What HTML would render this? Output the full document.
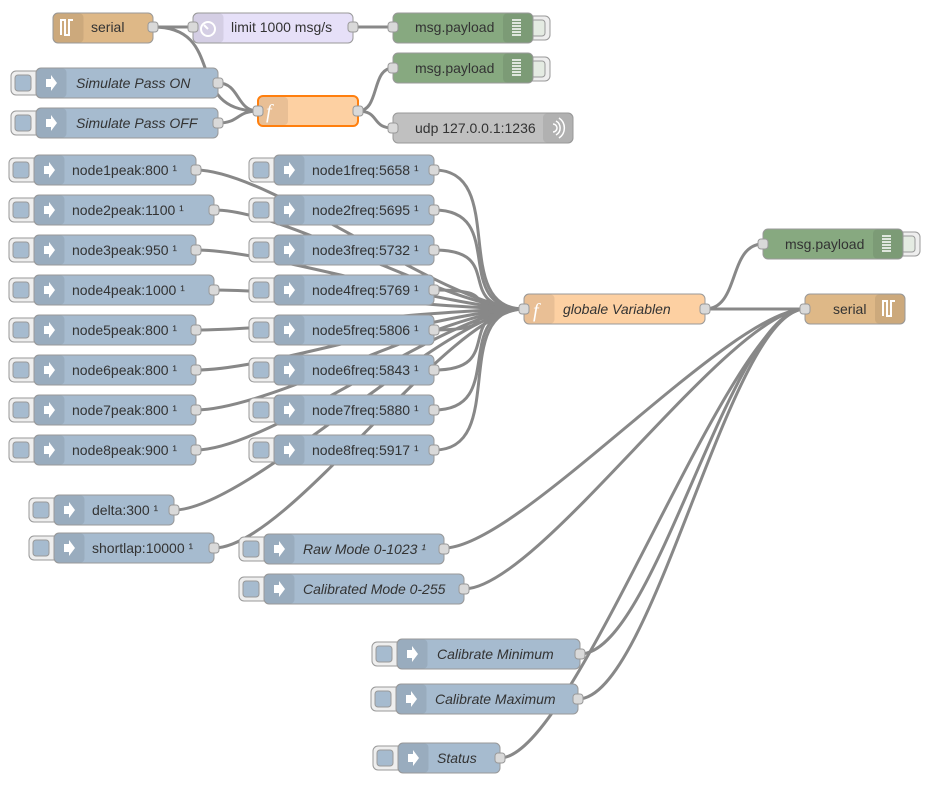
<!DOCTYPE html>
<html><head><meta charset="utf-8"><style>
html,body{margin:0;padding:0;background:#fff;width:926px;height:786px;overflow:hidden}
svg{display:block}
text{font-family:"Liberation Sans",sans-serif;font-size:14px;fill:#333}
.w{fill:none;stroke:#888;stroke-width:3}
.nd{stroke:#999;stroke-width:1}
.inj{fill:#a6bbcf;stroke:#999}
.ic{fill:rgba(0,0,0,0.08)}
.btn{fill:#eee;stroke:#999}
.bi{fill:#a6bbcf;stroke:#999}
.pt{fill:#d9d9d9;stroke:#999}
.ar{fill:#fff}
.it{font-style:italic}
</style></head><body>
<svg width="926" height="786" viewBox="0 0 926 786">
<!-- wires -->
<g class="w">
<path d="M153 27 C173 27 173 27 193 27"/>
<path d="M153 27 C228 27 183 111 258 111"/>
<path d="M353 27 C373 27 373 27 393 27"/>
<path d="M218 83 C240 83 236 111 258 111"/>
<path d="M218 123 C240 123 236 111 258 111"/>
<path d="M358 111 C380 111 371 68 393 68"/>
<path d="M358 111 C380 111 371 128 393 128"/>
<path d="M196 170 C271 170 449 309 524 309"/>
<path d="M214 210 C289 210 449 309 524 309"/>
<path d="M196 250 C271 250 449 309 524 309"/>
<path d="M214 290 C289 290 449 309 524 309"/>
<path d="M196 330 C271 330 449 309 524 309"/>
<path d="M196 370 C271 370 449 309 524 309"/>
<path d="M196 410 C271 410 449 309 524 309"/>
<path d="M196 450 C271 450 449 309 524 309"/>
<path d="M434 170 C509 170 449 309 524 309"/>
<path d="M434 210 C509 210 449 309 524 309"/>
<path d="M434 250 C509 250 449 309 524 309"/>
<path d="M434 290 C509 290 449 309 524 309"/>
<path d="M434 330 C509 330 449 309 524 309"/>
<path d="M434 370 C509 370 449 309 524 309"/>
<path d="M434 410 C509 410 449 309 524 309"/>
<path d="M434 450 C509 450 449 309 524 309"/>
<path d="M174 510 C249 510 449 309 524 309"/>
<path d="M214 548 C289 548 449 309 524 309"/>
<path d="M705 309 C740 309 728 244 763 244"/>
<path d="M705 309 C780 309 730 309 805 309"/>
<path d="M444 548 C519 548 730 309 805 309"/>
<path d="M464 589 C539 589 730 309 805 309"/>
<path d="M580 654 C655 654 730 309 805 309"/>
<path d="M578 699 C653 699 730 309 805 309"/>
<path d="M500 758 C575 758 730 309 805 309"/>
</g>

<!-- serial in -->
<rect x="53" y="13" width="100" height="30" rx="5" fill="#deb887" class="nd"/>
<rect x="53.5" y="13.5" width="30" height="29" rx="4" class="ic"/>
<path d="M61 35 V20 H65 V35 H69 V20 H73" fill="none" stroke="#fff" stroke-width="2"/>
<text x="91" y="32">serial</text>
<rect x="148" y="22" width="10" height="10" rx="3" class="pt"/>

<!-- limit -->
<rect x="193" y="13" width="160" height="30" rx="5" fill="#e6e0f8" class="nd"/>
<rect x="193.5" y="13.5" width="30" height="29" rx="4" class="ic"/>
<circle cx="208" cy="29" r="7" fill="none" stroke="#fff" stroke-width="2"/>
<path d="M208 29 L204 25" stroke="#fff" stroke-width="2"/>
<text x="231" y="32">limit 1000 msg/s</text>
<rect x="188" y="22" width="10" height="10" rx="3" class="pt"/>
<rect x="348" y="22" width="10" height="10" rx="3" class="pt"/>

<!-- debug nodes -->
<g>
<rect x="525" y="16" width="25" height="24" rx="5" class="btn"/>
<rect x="531" y="20" width="14" height="16" rx="3" fill="#e4ebe2" stroke="#999"/>
<rect x="393" y="13" width="140" height="30" rx="5" fill="#87a980" class="nd"/>
<rect x="503" y="13.5" width="29.5" height="29" rx="4" class="ic"/>
<path d="M512 20h9M512 23h9M512 26h9M512 29h9M512 32h9M512 35h9" stroke="#fff" stroke-width="1.5"/>
<text x="415" y="32">msg.payload</text>
<rect x="388" y="22" width="10" height="10" rx="3" class="pt"/>
</g>
<g>
<rect x="525" y="57" width="25" height="24" rx="5" class="btn"/>
<rect x="531" y="61" width="14" height="16" rx="3" fill="#e4ebe2" stroke="#999"/>
<rect x="393" y="53" width="140" height="30" rx="5" fill="#87a980" class="nd"/>
<rect x="503" y="53.5" width="29.5" height="29" rx="4" class="ic"/>
<path d="M512 60h9M512 63h9M512 66h9M512 69h9M512 72h9M512 75h9" stroke="#fff" stroke-width="1.5"/>
<text x="415" y="73">msg.payload</text>
<rect x="388" y="63" width="10" height="10" rx="3" class="pt"/>
</g>
<g>
<rect x="895" y="232" width="25" height="24" rx="5" class="btn"/>
<rect x="901" y="236" width="14" height="16" rx="3" fill="#e4ebe2" stroke="#999"/>
<rect x="763" y="229" width="140" height="30" rx="5" fill="#87a980" class="nd"/>
<rect x="873" y="229.5" width="29.5" height="29" rx="4" class="ic"/>
<path d="M882 236h9M882 239h9M882 242h9M882 245h9M882 248h9M882 251h9" stroke="#fff" stroke-width="1.5"/>
<text x="785" y="249">msg.payload</text>
<rect x="758" y="239" width="10" height="10" rx="3" class="pt"/>
</g>

<!-- udp -->
<rect x="393" y="113" width="180" height="30" rx="5" fill="#c0c0c0" class="nd"/>
<rect x="543" y="113.5" width="29.5" height="29" rx="4" class="ic"/>
<path d="M553 124a4 4 0 0 1 0 8M556 121a8 8 0 0 1 0 14M559 118a12 12 0 0 1 0 20" fill="none" stroke="#fff" stroke-width="1.5"/>
<text x="415" y="133">udp 127.0.0.1:1236</text>
<rect x="388" y="123" width="10" height="10" rx="3" class="pt"/>

<!-- function selected -->
<rect x="258" y="96" width="100" height="30" rx="5" fill="#fdd0a2" stroke="#ff7f0e" stroke-width="2"/>
<rect x="259" y="97" width="29" height="28" rx="4" class="ic"/>
<text x="266" y="118" style="font-size:20px;fill:#fff;font-style:italic;font-family:'Liberation Serif',serif">f</text>
<rect x="253" y="106" width="10" height="10" rx="3" class="pt"/>
<rect x="353" y="106" width="10" height="10" rx="3" class="pt"/>

<!-- globale Variablen -->
<rect x="524" y="294" width="181" height="30" rx="5" fill="#fdd0a2" class="nd"/>
<rect x="524.5" y="294.5" width="30" height="29" rx="4" class="ic"/>
<text x="533" y="317" style="font-size:20px;fill:#fff;font-style:italic;font-family:'Liberation Serif',serif">f</text>
<text x="563" y="314" class="it">globale Variablen</text>
<rect x="519" y="304" width="10" height="10" rx="3" class="pt"/>
<rect x="700" y="304" width="10" height="10" rx="3" class="pt"/>

<!-- serial out -->
<rect x="805" y="294" width="100" height="30" rx="5" fill="#deb887" class="nd"/>
<rect x="875" y="294.5" width="29.5" height="29" rx="4" class="ic"/>
<path d="M883 316 V301 H887 V316 H891 V301 H895" fill="none" stroke="#fff" stroke-width="2"/>
<text x="833" y="314">serial</text>
<rect x="800" y="304" width="10" height="10" rx="3" class="pt"/>

<!-- inject nodes -->
<g id="i1"><rect x="11" y="71" width="32" height="24" rx="5" class="btn"/><rect x="15" y="75" width="16" height="16" rx="3" class="bi"/><rect x="36" y="68" width="182" height="30" rx="5" class="inj"/><rect x="36.5" y="68.5" width="30" height="29" rx="4" class="ic"/><polygon class="ar" points="46,79 51,79 51,75 57,83 51,91 51,87 46,87"/><text x="76" y="88" class="it">Simulate Pass ON</text><rect x="213" y="78" width="10" height="10" rx="3" class="pt"/></g>
<g><rect x="11" y="111" width="32" height="24" rx="5" class="btn"/><rect x="15" y="115" width="16" height="16" rx="3" class="bi"/><rect x="36" y="108" width="182" height="30" rx="5" class="inj"/><rect x="36.5" y="108.5" width="30" height="29" rx="4" class="ic"/><polygon class="ar" points="46,119 51,119 51,115 57,123 51,131 51,127 46,127"/><text x="76" y="128" class="it">Simulate Pass OFF</text><rect x="213" y="118" width="10" height="10" rx="3" class="pt"/></g>

<!-- peaks -->
<g><rect x="9" y="158" width="32" height="24" rx="5" class="btn"/><rect x="13" y="162" width="16" height="16" rx="3" class="bi"/><rect x="34" y="155" width="162" height="30" rx="5" class="inj"/><rect x="34.5" y="155.5" width="30" height="29" rx="4" class="ic"/><polygon class="ar" points="44,166 49,166 49,162 55,170 49,178 49,174 44,174"/><text x="72" y="175">node1peak:800 ¹</text><rect x="191" y="165" width="10" height="10" rx="3" class="pt"/></g>
<g><rect x="9" y="198" width="32" height="24" rx="5" class="btn"/><rect x="13" y="202" width="16" height="16" rx="3" class="bi"/><rect x="34" y="195" width="180" height="30" rx="5" class="inj"/><rect x="34.5" y="195.5" width="30" height="29" rx="4" class="ic"/><polygon class="ar" points="44,206 49,206 49,202 55,210 49,218 49,214 44,214"/><text x="72" y="215">node2peak:1100 ¹</text><rect x="209" y="205" width="10" height="10" rx="3" class="pt"/></g>
<g><rect x="9" y="238" width="32" height="24" rx="5" class="btn"/><rect x="13" y="242" width="16" height="16" rx="3" class="bi"/><rect x="34" y="235" width="162" height="30" rx="5" class="inj"/><rect x="34.5" y="235.5" width="30" height="29" rx="4" class="ic"/><polygon class="ar" points="44,246 49,246 49,242 55,250 49,258 49,254 44,254"/><text x="72" y="255">node3peak:950 ¹</text><rect x="191" y="245" width="10" height="10" rx="3" class="pt"/></g>
<g><rect x="9" y="278" width="32" height="24" rx="5" class="btn"/><rect x="13" y="282" width="16" height="16" rx="3" class="bi"/><rect x="34" y="275" width="180" height="30" rx="5" class="inj"/><rect x="34.5" y="275.5" width="30" height="29" rx="4" class="ic"/><polygon class="ar" points="44,286 49,286 49,282 55,290 49,298 49,294 44,294"/><text x="72" y="295">node4peak:1000 ¹</text><rect x="209" y="285" width="10" height="10" rx="3" class="pt"/></g>
<g><rect x="9" y="318" width="32" height="24" rx="5" class="btn"/><rect x="13" y="322" width="16" height="16" rx="3" class="bi"/><rect x="34" y="315" width="162" height="30" rx="5" class="inj"/><rect x="34.5" y="315.5" width="30" height="29" rx="4" class="ic"/><polygon class="ar" points="44,326 49,326 49,322 55,330 49,338 49,334 44,334"/><text x="72" y="335">node5peak:800 ¹</text><rect x="191" y="325" width="10" height="10" rx="3" class="pt"/></g>
<g><rect x="9" y="358" width="32" height="24" rx="5" class="btn"/><rect x="13" y="362" width="16" height="16" rx="3" class="bi"/><rect x="34" y="355" width="162" height="30" rx="5" class="inj"/><rect x="34.5" y="355.5" width="30" height="29" rx="4" class="ic"/><polygon class="ar" points="44,366 49,366 49,362 55,370 49,378 49,374 44,374"/><text x="72" y="375">node6peak:800 ¹</text><rect x="191" y="365" width="10" height="10" rx="3" class="pt"/></g>
<g><rect x="9" y="398" width="32" height="24" rx="5" class="btn"/><rect x="13" y="402" width="16" height="16" rx="3" class="bi"/><rect x="34" y="395" width="162" height="30" rx="5" class="inj"/><rect x="34.5" y="395.5" width="30" height="29" rx="4" class="ic"/><polygon class="ar" points="44,406 49,406 49,402 55,410 49,418 49,414 44,414"/><text x="72" y="415">node7peak:800 ¹</text><rect x="191" y="405" width="10" height="10" rx="3" class="pt"/></g>
<g><rect x="9" y="438" width="32" height="24" rx="5" class="btn"/><rect x="13" y="442" width="16" height="16" rx="3" class="bi"/><rect x="34" y="435" width="162" height="30" rx="5" class="inj"/><rect x="34.5" y="435.5" width="30" height="29" rx="4" class="ic"/><polygon class="ar" points="44,446 49,446 49,442 55,450 49,458 49,454 44,454"/><text x="72" y="455">node8peak:900 ¹</text><rect x="191" y="445" width="10" height="10" rx="3" class="pt"/></g>

<!-- freqs -->
<g><rect x="249" y="158" width="32" height="24" rx="5" class="btn"/><rect x="253" y="162" width="16" height="16" rx="3" class="bi"/><rect x="274" y="155" width="160" height="30" rx="5" class="inj"/><rect x="274.5" y="155.5" width="30" height="29" rx="4" class="ic"/><polygon class="ar" points="284,166 289,166 289,162 295,170 289,178 289,174 284,174"/><text x="312" y="175">node1freq:5658 ¹</text><rect x="429" y="165" width="10" height="10" rx="3" class="pt"/></g>
<g><rect x="249" y="198" width="32" height="24" rx="5" class="btn"/><rect x="253" y="202" width="16" height="16" rx="3" class="bi"/><rect x="274" y="195" width="160" height="30" rx="5" class="inj"/><rect x="274.5" y="195.5" width="30" height="29" rx="4" class="ic"/><polygon class="ar" points="284,206 289,206 289,202 295,210 289,218 289,214 284,214"/><text x="312" y="215">node2freq:5695 ¹</text><rect x="429" y="205" width="10" height="10" rx="3" class="pt"/></g>
<g><rect x="249" y="238" width="32" height="24" rx="5" class="btn"/><rect x="253" y="242" width="16" height="16" rx="3" class="bi"/><rect x="274" y="235" width="160" height="30" rx="5" class="inj"/><rect x="274.5" y="235.5" width="30" height="29" rx="4" class="ic"/><polygon class="ar" points="284,246 289,246 289,242 295,250 289,258 289,254 284,254"/><text x="312" y="255">node3freq:5732 ¹</text><rect x="429" y="245" width="10" height="10" rx="3" class="pt"/></g>
<g><rect x="249" y="278" width="32" height="24" rx="5" class="btn"/><rect x="253" y="282" width="16" height="16" rx="3" class="bi"/><rect x="274" y="275" width="160" height="30" rx="5" class="inj"/><rect x="274.5" y="275.5" width="30" height="29" rx="4" class="ic"/><polygon class="ar" points="284,286 289,286 289,282 295,290 289,298 289,294 284,294"/><text x="312" y="295">node4freq:5769 ¹</text><rect x="429" y="285" width="10" height="10" rx="3" class="pt"/></g>
<g><rect x="249" y="318" width="32" height="24" rx="5" class="btn"/><rect x="253" y="322" width="16" height="16" rx="3" class="bi"/><rect x="274" y="315" width="160" height="30" rx="5" class="inj"/><rect x="274.5" y="315.5" width="30" height="29" rx="4" class="ic"/><polygon class="ar" points="284,326 289,326 289,322 295,330 289,338 289,334 284,334"/><text x="312" y="335">node5freq:5806 ¹</text><rect x="429" y="325" width="10" height="10" rx="3" class="pt"/></g>
<g><rect x="249" y="358" width="32" height="24" rx="5" class="btn"/><rect x="253" y="362" width="16" height="16" rx="3" class="bi"/><rect x="274" y="355" width="160" height="30" rx="5" class="inj"/><rect x="274.5" y="355.5" width="30" height="29" rx="4" class="ic"/><polygon class="ar" points="284,366 289,366 289,362 295,370 289,378 289,374 284,374"/><text x="312" y="375">node6freq:5843 ¹</text><rect x="429" y="365" width="10" height="10" rx="3" class="pt"/></g>
<g><rect x="249" y="398" width="32" height="24" rx="5" class="btn"/><rect x="253" y="402" width="16" height="16" rx="3" class="bi"/><rect x="274" y="395" width="160" height="30" rx="5" class="inj"/><rect x="274.5" y="395.5" width="30" height="29" rx="4" class="ic"/><polygon class="ar" points="284,406 289,406 289,402 295,410 289,418 289,414 284,414"/><text x="312" y="415">node7freq:5880 ¹</text><rect x="429" y="405" width="10" height="10" rx="3" class="pt"/></g>
<g><rect x="249" y="438" width="32" height="24" rx="5" class="btn"/><rect x="253" y="442" width="16" height="16" rx="3" class="bi"/><rect x="274" y="435" width="160" height="30" rx="5" class="inj"/><rect x="274.5" y="435.5" width="30" height="29" rx="4" class="ic"/><polygon class="ar" points="284,446 289,446 289,442 295,450 289,458 289,454 284,454"/><text x="312" y="455">node8freq:5917 ¹</text><rect x="429" y="445" width="10" height="10" rx="3" class="pt"/></g>

<!-- delta / shortlap -->
<g><rect x="29" y="498" width="32" height="24" rx="5" class="btn"/><rect x="33" y="502" width="16" height="16" rx="3" class="bi"/><rect x="54" y="495" width="120" height="30" rx="5" class="inj"/><rect x="54.5" y="495.5" width="30" height="29" rx="4" class="ic"/><polygon class="ar" points="64,506 69,506 69,502 75,510 69,518 69,514 64,514"/><text x="92" y="515">delta:300 ¹</text><rect x="169" y="505" width="10" height="10" rx="3" class="pt"/></g>
<g><rect x="29" y="536" width="32" height="24" rx="5" class="btn"/><rect x="33" y="540" width="16" height="16" rx="3" class="bi"/><rect x="54" y="533" width="160" height="30" rx="5" class="inj"/><rect x="54.5" y="533.5" width="30" height="29" rx="4" class="ic"/><polygon class="ar" points="64,544 69,544 69,540 75,548 69,556 69,552 64,552"/><text x="92" y="553">shortlap:10000 ¹</text><rect x="209" y="543" width="10" height="10" rx="3" class="pt"/></g>

<!-- modes -->
<g><rect x="239" y="537" width="32" height="24" rx="5" class="btn"/><rect x="243" y="541" width="16" height="16" rx="3" class="bi"/><rect x="264" y="534" width="180" height="30" rx="5" class="inj"/><rect x="264.5" y="534.5" width="30" height="29" rx="4" class="ic"/><polygon class="ar" points="274,545 279,545 279,541 285,549 279,557 279,553 274,553"/><text x="303" y="554" class="it">Raw Mode 0-1023 ¹</text><rect x="439" y="544" width="10" height="10" rx="3" class="pt"/></g>
<g><rect x="239" y="577" width="32" height="24" rx="5" class="btn"/><rect x="243" y="581" width="16" height="16" rx="3" class="bi"/><rect x="264" y="574" width="200" height="30" rx="5" class="inj"/><rect x="264.5" y="574.5" width="30" height="29" rx="4" class="ic"/><polygon class="ar" points="274,585 279,585 279,581 285,589 279,597 279,593 274,593"/><text x="303" y="594" class="it">Calibrated Mode 0-255</text><rect x="459" y="584" width="10" height="10" rx="3" class="pt"/></g>

<!-- calibrate -->
<g><rect x="372" y="642" width="32" height="24" rx="5" class="btn"/><rect x="376" y="646" width="16" height="16" rx="3" class="bi"/><rect x="397" y="639" width="183" height="30" rx="5" class="inj"/><rect x="397.5" y="639.5" width="30" height="29" rx="4" class="ic"/><polygon class="ar" points="407,650 412,650 412,646 418,654 412,662 412,658 407,658"/><text x="437" y="659" class="it">Calibrate Minimum</text><rect x="575" y="649" width="10" height="10" rx="3" class="pt"/></g>
<g><rect x="371" y="687" width="32" height="24" rx="5" class="btn"/><rect x="375" y="691" width="16" height="16" rx="3" class="bi"/><rect x="396" y="684" width="182" height="30" rx="5" class="inj"/><rect x="396.5" y="684.5" width="30" height="29" rx="4" class="ic"/><polygon class="ar" points="406,695 411,695 411,691 417,699 411,707 411,703 406,703"/><text x="435" y="704" class="it">Calibrate Maximum</text><rect x="573" y="694" width="10" height="10" rx="3" class="pt"/></g>
<g><rect x="373" y="746" width="32" height="24" rx="5" class="btn"/><rect x="377" y="750" width="16" height="16" rx="3" class="bi"/><rect x="398" y="743" width="102" height="30" rx="5" class="inj"/><rect x="398.5" y="743.5" width="30" height="29" rx="4" class="ic"/><polygon class="ar" points="408,754 413,754 413,750 419,758 413,766 413,762 408,762"/><text x="437" y="763" class="it">Status</text><rect x="495" y="753" width="10" height="10" rx="3" class="pt"/></g>
</svg>
</body></html>
